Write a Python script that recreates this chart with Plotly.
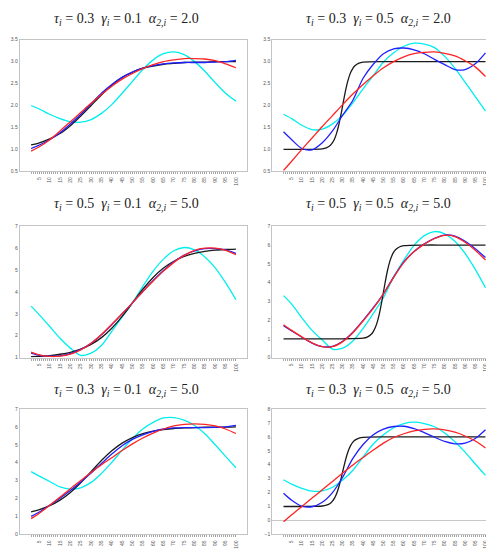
import plotly.graph_objects as go
from plotly.subplots import make_subplots

# ==============================
# data
# ==============================
X = [1, 5, 10, 15, 20, 25, 30, 35, 40, 45, 50, 55, 60, 65, 70, 75, 80, 85, 90, 95, 100]

# steep logistic curves need denser x
X_STEEP30 = [1, 10, 20, 22, 24, 25, 26, 27, 28, 29, 30, 31, 32, 33, 34, 35, 36, 38, 40, 50, 60, 70, 80, 90, 100]
X_STEEP50 = [1, 10, 20, 30, 40, 42, 44, 45, 46, 47, 48, 49, 50, 51, 52, 53, 54, 55, 56, 58, 60, 70, 80, 90, 100]

TITLES = [
    ("0.3", "0.1", "2.0"), ("0.3", "0.5", "2.0"),
    ("0.5", "0.1", "5.0"), ("0.5", "0.5", "5.0"),
    ("0.3", "0.1", "5.0"), ("0.3", "0.5", "5.0"),
]

# panel 1: tau .3 gamma .1 alpha 2
p1_black = [1.10, 1.15, 1.24, 1.36, 1.54, 1.76, 2.0, 2.24, 2.46, 2.64, 2.76, 2.85, 2.90, 2.94, 2.96, 2.98, 2.99, 2.99, 3.0, 3.0, 3.0]
p1_blue = [1.02, 1.10, 1.22, 1.38, 1.58, 1.80, 2.04, 2.28, 2.48, 2.64, 2.76, 2.85, 2.91, 2.95, 2.97, 2.98, 2.98, 2.98, 2.99, 3.0, 3.03]
p1_red = [0.96, 1.06, 1.22, 1.42, 1.63, 1.84, 2.05, 2.25, 2.44, 2.60, 2.73, 2.84, 2.93, 3.0, 3.04, 3.07, 3.07, 3.06, 3.02, 2.95, 2.86]
p1_cyan = [2.0, 1.92, 1.80, 1.70, 1.63, 1.62, 1.68, 1.82, 2.02, 2.28, 2.55, 2.82, 3.04, 3.18, 3.22, 3.16, 3.0, 2.78, 2.52, 2.28, 2.1]

# panel 2: tau .3 gamma .5 alpha 2
p2_black = [1.0, 1.0, 1.013, 1.036, 1.095, 1.152, 1.238, 1.365, 1.538, 1.755, 2.0, 2.245, 2.462, 2.635, 2.762, 2.848, 2.905, 2.964, 2.987, 3.0, 3.0, 3.0, 3.0, 3.0, 3.0]
p2_blue = [1.40, 1.22, 1.02, 0.99, 1.15, 1.42, 1.78, 2.12, 2.62, 2.94, 3.18, 3.29, 3.31, 3.27, 3.18, 3.05, 2.93, 2.82, 2.82, 2.95, 3.2]
p2_red = [0.52, 0.73, 1.0, 1.26, 1.52, 1.77, 2.02, 2.26, 2.48, 2.68, 2.86, 3.0, 3.11, 3.18, 3.21, 3.22, 3.19, 3.13, 3.02, 2.88, 2.66]
p2_cyan = [1.80, 1.70, 1.55, 1.45, 1.46, 1.58, 1.78, 2.06, 2.38, 2.68, 2.99, 3.2, 3.35, 3.42, 3.4, 3.32, 3.12, 2.85, 2.53, 2.2, 1.87]

# panel 3: tau .5 gamma .1 alpha 5
p3_black = [1.04, 1.05, 1.09, 1.15, 1.24, 1.38, 1.6, 1.91, 2.34, 2.88, 3.5, 4.12, 4.66, 5.09, 5.4, 5.62, 5.76, 5.85, 5.91, 5.94, 5.96]
p3_blue = [1.2, 1.1, 1.06, 1.08, 1.18, 1.37, 1.65, 2.04, 2.5, 3.0, 3.5, 4.02, 4.52, 4.98, 5.38, 5.68, 5.88, 5.98, 5.98, 5.92, 5.76]
p3_red = [1.25, 1.12, 1.05, 1.06, 1.15, 1.35, 1.65, 2.05, 2.52, 3.0, 3.5, 4.02, 4.5, 4.95, 5.35, 5.67, 5.9, 6.0, 6.0, 5.9, 5.7]
p3_cyan = [3.35, 2.95, 2.42, 1.88, 1.43, 1.1, 1.2, 1.55, 2.2, 2.85, 3.5, 4.25, 4.95, 5.5, 5.88, 6.03, 5.92, 5.6, 5.1, 4.42, 3.64]

# panel 4: tau .5 gamma .5 alpha 5
p4_black = [1.0, 1.0, 1.0, 1.0, 1.033, 1.09, 1.237, 1.38, 1.596, 1.912, 2.345, 2.888, 3.5, 4.112, 4.655, 5.088, 5.404, 5.62, 5.763, 5.91, 5.967, 6.0, 6.0, 6.0, 6.0]
p4_blue = [1.7, 1.42, 1.08, 0.77, 0.58, 0.6, 0.87, 1.35, 1.98, 2.66, 3.4, 4.3, 5.1, 5.66, 6.06, 6.36, 6.53, 6.48, 6.2, 5.8, 5.33]
p4_red = [1.75, 1.45, 1.1, 0.78, 0.58, 0.58, 0.85, 1.32, 1.95, 2.62, 3.4, 4.28, 5.08, 5.65, 6.05, 6.35, 6.52, 6.45, 6.15, 5.72, 5.2]
p4_cyan = [3.3, 2.85, 2.12, 1.45, 0.93, 0.45, 0.5, 0.88, 1.55, 2.35, 3.2, 4.3, 5.2, 5.98, 6.5, 6.72, 6.6, 6.2, 5.55, 4.7, 3.72]

# panel 5: tau .3 gamma .1 alpha 5
p5_black = [1.26, 1.38, 1.6, 1.91, 2.34, 2.88, 3.5, 4.12, 4.66, 5.09, 5.4, 5.62, 5.76, 5.85, 5.91, 5.94, 5.96, 5.98, 5.99, 5.99, 6.0]
p5_blue = [1.0, 1.25, 1.62, 2.02, 2.45, 2.92, 3.42, 3.95, 4.48, 4.95, 5.3, 5.55, 5.75, 5.88, 5.94, 5.96, 5.96, 5.96, 5.97, 6.0, 6.08]
p5_red = [0.88, 1.18, 1.62, 2.08, 2.55, 3.0, 3.45, 3.88, 4.28, 4.68, 5.05, 5.38, 5.65, 5.88, 6.05, 6.14, 6.17, 6.14, 6.05, 5.88, 5.63]
p5_cyan = [3.5, 3.25, 2.95, 2.65, 2.53, 2.6, 2.9, 3.4, 4.02, 4.7, 5.35, 5.88, 6.25, 6.5, 6.52, 6.38, 6.08, 5.62, 5.0, 4.35, 3.72]

# panel 6: tau .3 gamma .5 alpha 5
p6_black = [1.0, 1.0, 1.033, 1.09, 1.237, 1.38, 1.596, 1.912, 2.345, 2.888, 3.5, 4.112, 4.655, 5.088, 5.404, 5.62, 5.763, 5.91, 5.967, 6.0, 6.0, 6.0, 6.0, 6.0, 6.0]
p6_blue = [1.95, 1.45, 1.02, 0.98, 1.3, 2.0, 3.1, 4.45, 5.45, 6.15, 6.55, 6.74, 6.76, 6.58, 6.3, 5.97, 5.67, 5.5, 5.55, 5.88, 6.51]
p6_red = [-0.1, 0.4, 1.0, 1.6, 2.2, 2.8, 3.4, 3.98, 4.52, 5.05, 5.55, 5.95, 6.22, 6.42, 6.54, 6.57, 6.5, 6.33, 6.06, 5.7, 5.2]
p6_cyan = [2.92, 2.6, 2.3, 2.1, 2.12, 2.38, 2.9, 3.6, 4.55, 5.48, 6.15, 6.65, 6.95, 7.05, 6.95, 6.72, 6.28, 5.65, 4.9, 4.05, 3.23]

PANELS = [
    (X, p1_black, p1_blue, p1_red, p1_cyan, [0.5, 3.5], 0.5),
    (X_STEEP30, p2_black, p2_blue, p2_red, p2_cyan, [0.5, 3.5], 0.5),
    (X, p3_black, p3_blue, p3_red, p3_cyan, [1, 7], 1),
    (X_STEEP50, p4_black, p4_blue, p4_red, p4_cyan, [0, 7], 1),
    (X, p5_black, p5_blue, p5_red, p5_cyan, [0, 7], 1),
    (X_STEEP30, p6_black, p6_blue, p6_red, p6_cyan, [-1, 8], 1),
]

# ==============================
# figure
# ==============================
fig = make_subplots(rows=3, cols=2)

x_domains = [[0.0237, 0.4844], [0.535, 0.9893]]
y_domains = [[0.7031, 0.9424], [0.3645, 0.6031], [0.0430, 0.2710]]
title_x = [118 / 494, 370 / 494]
title_y = [1 - 11 / 550, 1 - 196 / 550, 1 - 382 / 550]

for i, (bx, black, blue, red, cyan, yr, dt) in enumerate(PANELS):
    row, col = i // 2 + 1, i % 2 + 1
    for xs, ys, c in [(X, cyan, "#00eeee"), (bx, black, "#1a1a1a"), (X, blue, "#1f1fff"), (X, red, "#ff2424")]:
        fig.add_trace(go.Scatter(
            x=xs, y=ys, mode="lines",
            line=dict(color=c, width=1.3, shape="spline", smoothing=0.8),
            showlegend=False, hoverinfo="skip"
        ), row=row, col=col)

    fig.update_xaxes(
        domain=x_domains[col - 1], range=[-4.5, 105.5],
        tickmode="array", tickvals=X[1:], ticktext=[str(v) for v in X[1:]],
        tickangle=-90, tickfont=dict(size=5, color="#555", family="Liberation Sans"),
        ticks="outside", ticklen=2, tickcolor="#999", tickwidth=0.6,
        ticklabelstandoff=1,
        minor=dict(tickmode="array", tickvals=list(range(1, 101)), ticks="outside",
                   ticklen=2, tickcolor="#aaa", tickwidth=0.5),
        showline=True, linecolor="#c4c4c4", linewidth=1, mirror=True,
        showgrid=False, zeroline=False, automargin=False,
        row=row, col=col
    )
    fig.update_yaxes(
        domain=y_domains[row - 1], range=yr, dtick=dt, tick0=0,
        tickformat=".1f" if dt == 0.5 else "d",
        tickfont=dict(size=5, color="#555", family="Liberation Sans"),
        ticks="", showline=True, linecolor="#c4c4c4", linewidth=1, mirror=True,
        showgrid=False, zeroline=(i == 5), zerolinecolor="#c8c8c8", zerolinewidth=1,
        automargin=False,
        row=row, col=col
    )

    tau, gam, alp = TITLES[i]
    fig.add_annotation(
        xref="paper", yref="paper", x=title_x[col - 1], y=title_y[row - 1],
        text=f"<i>τ<sub>i</sub></i> = {tau}  <i>γ<sub>i</sub></i> = {gam}  <i>α<sub>2,i</sub></i> = {alp}",
        showarrow=False, font=dict(family="Liberation Serif", size=14, color="#222"),
        xanchor="center", yanchor="middle"
    )

fig.update_layout(
    width=494, height=550,
    margin=dict(l=0, r=0, t=0, b=0),
    paper_bgcolor="white", plot_bgcolor="white"
)

fig.write_html("out.html")
